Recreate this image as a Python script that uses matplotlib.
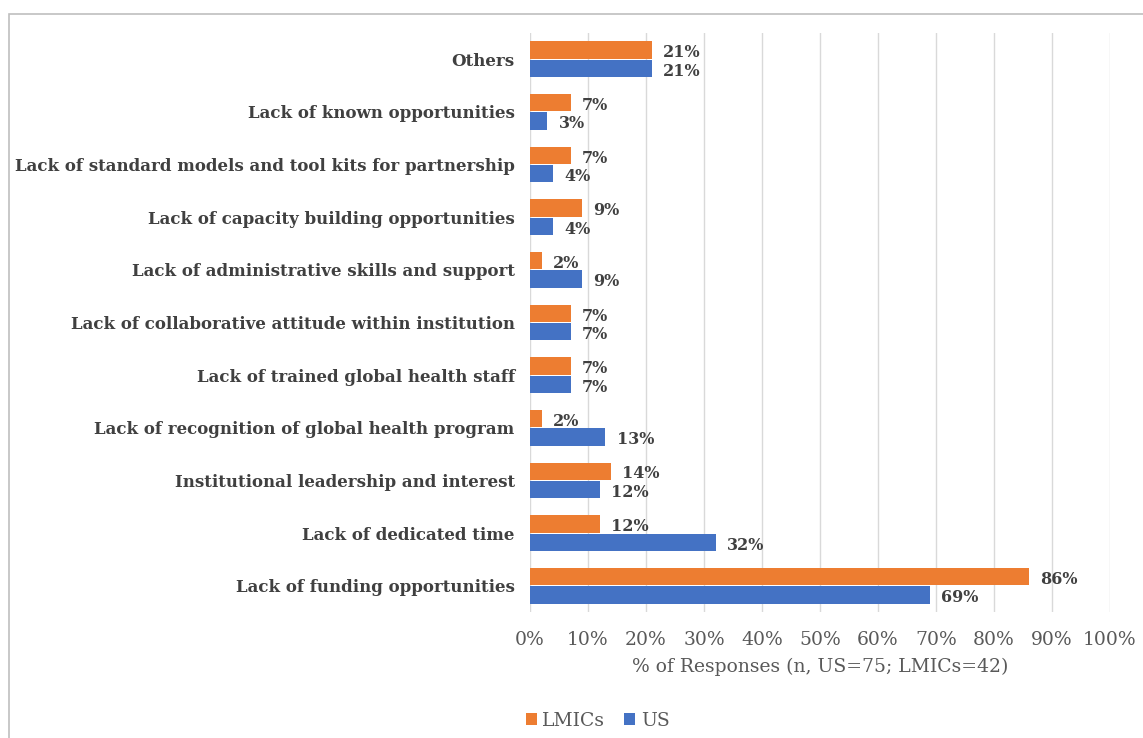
import matplotlib
matplotlib.use('Agg')
import matplotlib.pyplot as plt
from matplotlib.patches import Rectangle
import numpy as np

plt.rcParams['font.family'] = ['DejaVu Serif']

categories = [
    'Lack of funding opportunities',
    'Lack of dedicated time',
    'Institutional leadership and interest',
    'Lack of recognition of global health program',
    'Lack of trained global health staff',
    'Lack of collaborative attitude within institution',
    'Lack of administrative skills and support',
    'Lack of capacity building opportunities',
    'Lack of standard models and tool kits for partnership',
    'Lack of known opportunities',
    'Others',
]
lmics = [86, 12, 14, 2, 7, 7, 2, 9, 7, 7, 21]
us = [69, 32, 12, 13, 7, 7, 9, 4, 4, 3, 21]

ORANGE = '#ED7D31'
BLUE = '#4472C4'
TEXT = '#404040'

fig = plt.figure(figsize=(11.43, 7.38), dpi=100)
ax = fig.add_axes([0.4637, 0.1707, 0.5074, 0.7846])

y = np.arange(len(categories))
h = 0.33
gap = 0.02
b1 = ax.barh(y + h / 2 + gap / 2, lmics, height=h, color=ORANGE, label='LMICs', zorder=3)
b2 = ax.barh(y - h / 2 - gap / 2, us, height=h, color=BLUE, label='US', zorder=3)

for bars, vals in ((b1, lmics), (b2, us)):
    for bar, v in zip(bars, vals):
        ax.annotate(f'{v}%', (bar.get_width(), bar.get_y() + bar.get_height() / 2),
                    xytext=(8, -2), textcoords='offset points', va='center', ha='left',
                    fontsize=11.5, fontweight='bold', color=TEXT)

ax.set_xlim(0, 100)
ax.set_ylim(-0.5, len(categories) - 0.5)
ax.set_xticks(np.arange(0, 101, 10))
ax.set_xticklabels([f'{t}%' for t in range(0, 101, 10)], fontsize=13.5, color='#595959')
ax.set_yticks(y)
ax.set_yticklabels(categories, fontsize=12, fontweight='bold', color=TEXT)
ax.tick_params(axis='both', length=0)
ax.tick_params(axis='x', pad=14)
ax.tick_params(axis='y', pad=11)
ax.grid(axis='x', color='#d9d9d9', linewidth=1, zorder=0)
for s in ax.spines.values():
    s.set_visible(False)

ax.set_xlabel('% of Responses (n, US=75; LMICs=42)', fontsize=13.5, color='#595959', labelpad=6)

leg = fig.legend(handles=[b1, b2], loc='lower left', bbox_to_anchor=(0.445, -0.012),
                 ncol=2, frameon=False, fontsize=13.5, handlelength=0.6, handleheight=0.6,
                 handletextpad=0.3, columnspacing=1.0)
for t in leg.get_texts():
    t.set_color('#595959')

# light frame around the chart area
fig.add_artist(Rectangle((0.008, -0.05), 1.1, 1.031, transform=fig.transFigure,
                         fill=False, edgecolor='#bfbfbf', linewidth=1.2))

fig.savefig('out.png', dpi=100, facecolor='white')
